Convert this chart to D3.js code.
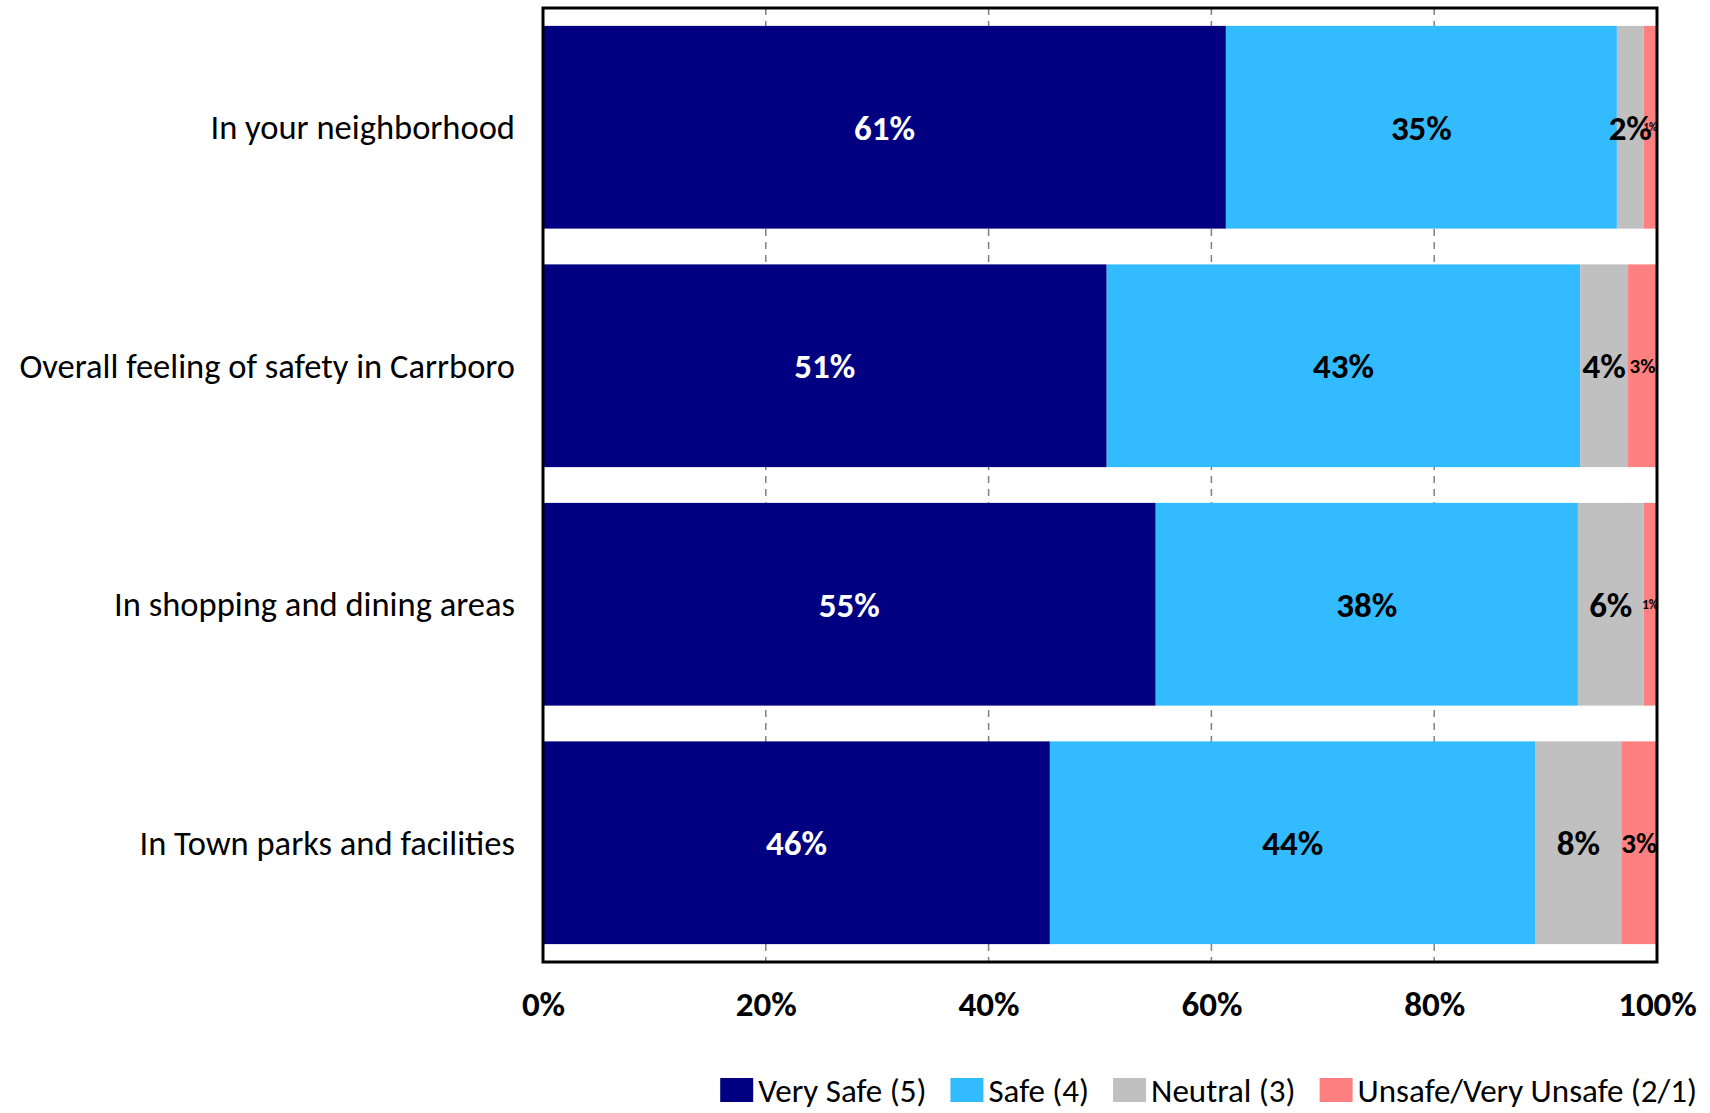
<!DOCTYPE html>
<html>
<head>
<meta charset="utf-8">
<script src="https://cdn.jsdelivr.net/npm/d3@7"></script>
<style>
  body { margin: 0; background: #fff; }
  svg { display: block; font-family: Carlito, Calibri, Lato, sans-serif; }
</style>
</head>
<body>
<div id="chart"></div>
<script>
const categories = [
  'In your neighborhood',
  'Overall feeling of safety in Carrboro',
  'In shopping and dining areas',
  'In Town parks and facilities',
];
const seriesNames = ['Very Safe (5)', 'Safe (4)', 'Neutral (3)', 'Unsafe/Very Unsafe (2/1)'];
const verySafe = [61.3, 50.6, 55.0, 45.5];
const safe = [35.1, 42.5, 37.9, 43.6];
const neutral = [2.4, 4.3, 5.9, 7.7];
const unsafe = [1.2, 2.6, 1.2, 3.2];
const xTicks = [0, 20, 40, 60, 80, 100];

const width = 1710;
const height = 1113;
const colors = ['#000080', '#33bbff', '#c0c0c0', '#ff8080'];
const labelColors = ['#fff', '#000', '#000', '#000'];
// excel shrinks the labels that do not fit
const smallLabel = { '0-3': 11, '1-3': 21, '2-3': 13, '3-3': 29 };

const rows = categories.map((c, i) => ({
  cat: c, s0: verySafe[i], s1: safe[i], s2: neutral[i], s3: unsafe[i],
}));
const keys = ['s0', 's1', 's2', 's3'];
const stacked = d3.stack().keys(keys)(rows);

const x = d3.scaleLinear().domain([0, 100]).range([543, 1657]);
const y = d3.scaleBand().domain(categories).range([8, 962])
  .paddingInner(0.15)
  .paddingOuter(0.075);

const svg = d3.select('#chart').append('svg')
  .attr('width', width)
  .attr('height', height);

// dashed gridlines behind bars
svg.append('g')
  .selectAll('line')
  .data(xTicks.slice(1, -1))
  .enter()
  .append('line')
  .attr('x1', (d) => x(d))
  .attr('x2', (d) => x(d))
  .attr('y1', 8)
  .attr('y2', 962)
  .attr('stroke', '#808080')
  .attr('stroke-width', 1.5)
  .attr('stroke-dasharray', '7,6');

const layer = svg.append('g')
  .selectAll('g')
  .data(stacked)
  .enter()
  .append('g')
  .attr('fill', (d, i) => colors[i]);

layer.selectAll('rect')
  .data((d) => d)
  .enter()
  .append('rect')
  .attr('x', (d) => x(d[0]))
  .attr('width', (d) => x(d[1]) - x(d[0]))
  .attr('y', (d) => y(d.data.cat))
  .attr('height', y.bandwidth());

// value labels
stacked.forEach((s, si) => {
  svg.append('g')
    .selectAll('text')
    .data(s)
    .enter()
    .append('text')
    .attr('x', (d) => (x(d[0]) + x(d[1])) / 2)
    .attr('y', (d) => y(d.data.cat) + y.bandwidth() / 2)
    .attr('dy', '0.36em')
    .attr('text-anchor', 'middle')
    .attr('font-weight', 'bold')
    .attr('font-size', (d, ci) => smallLabel[`${ci}-${si}`] || 35)
    .attr('fill', labelColors[si])
    .text((d) => `${Math.round(d.data[s.key])}%`);
});

// plot frame
svg.append('rect')
  .attr('x', 543)
  .attr('y', 8)
  .attr('width', 1114)
  .attr('height', 954)
  .attr('fill', 'none')
  .attr('stroke', '#000')
  .attr('stroke-width', 3);

// category labels
svg.append('g')
  .selectAll('text')
  .data(categories)
  .enter()
  .append('text')
  .attr('x', 515)
  .attr('y', (d) => y(d) + y.bandwidth() / 2)
  .attr('dy', '0.35em')
  .attr('text-anchor', 'end')
  .attr('font-size', 34.5)
  .attr('fill', '#000')
  .text((d) => d);

// x axis
const xAxis = svg.append('g')
  .attr('transform', 'translate(0,962)')
  .call(d3.axisBottom(x).tickValues(xTicks).tickFormat((d) => `${d}%`).tickSize(0).tickPadding(29));
xAxis.select('.domain').remove();
xAxis.selectAll('text')
  .attr('font-family', 'Carlito, Calibri, Lato, sans-serif')
  .attr('font-size', 35)
  .attr('font-weight', 'bold')
  .attr('fill', '#000');

// legend, right aligned like the original
const legend = svg.append('g').attr('transform', 'translate(0,1090)');
const items = seriesNames.map((name, i) => {
  const sw = legend.append('rect')
    .attr('y', -12)
    .attr('width', 33)
    .attr('height', 24)
    .attr('fill', colors[i]);
  const t = legend.append('text')
    .attr('y', 0)
    .attr('dy', '0.35em')
    .attr('font-size', 33)
    .attr('fill', '#000')
    .text(name);
  return { sw, t, w: t.node().getComputedTextLength() };
});
const gap = 24;
const total = d3.sum(items, (d) => 38 + d.w) + gap * (items.length - 1);
let lx = 1697 - total;
items.forEach((it) => {
  it.sw.attr('x', lx);
  it.t.attr('x', lx + 38);
  lx += 38 + it.w + gap;
});
</script>
</body>
</html>
